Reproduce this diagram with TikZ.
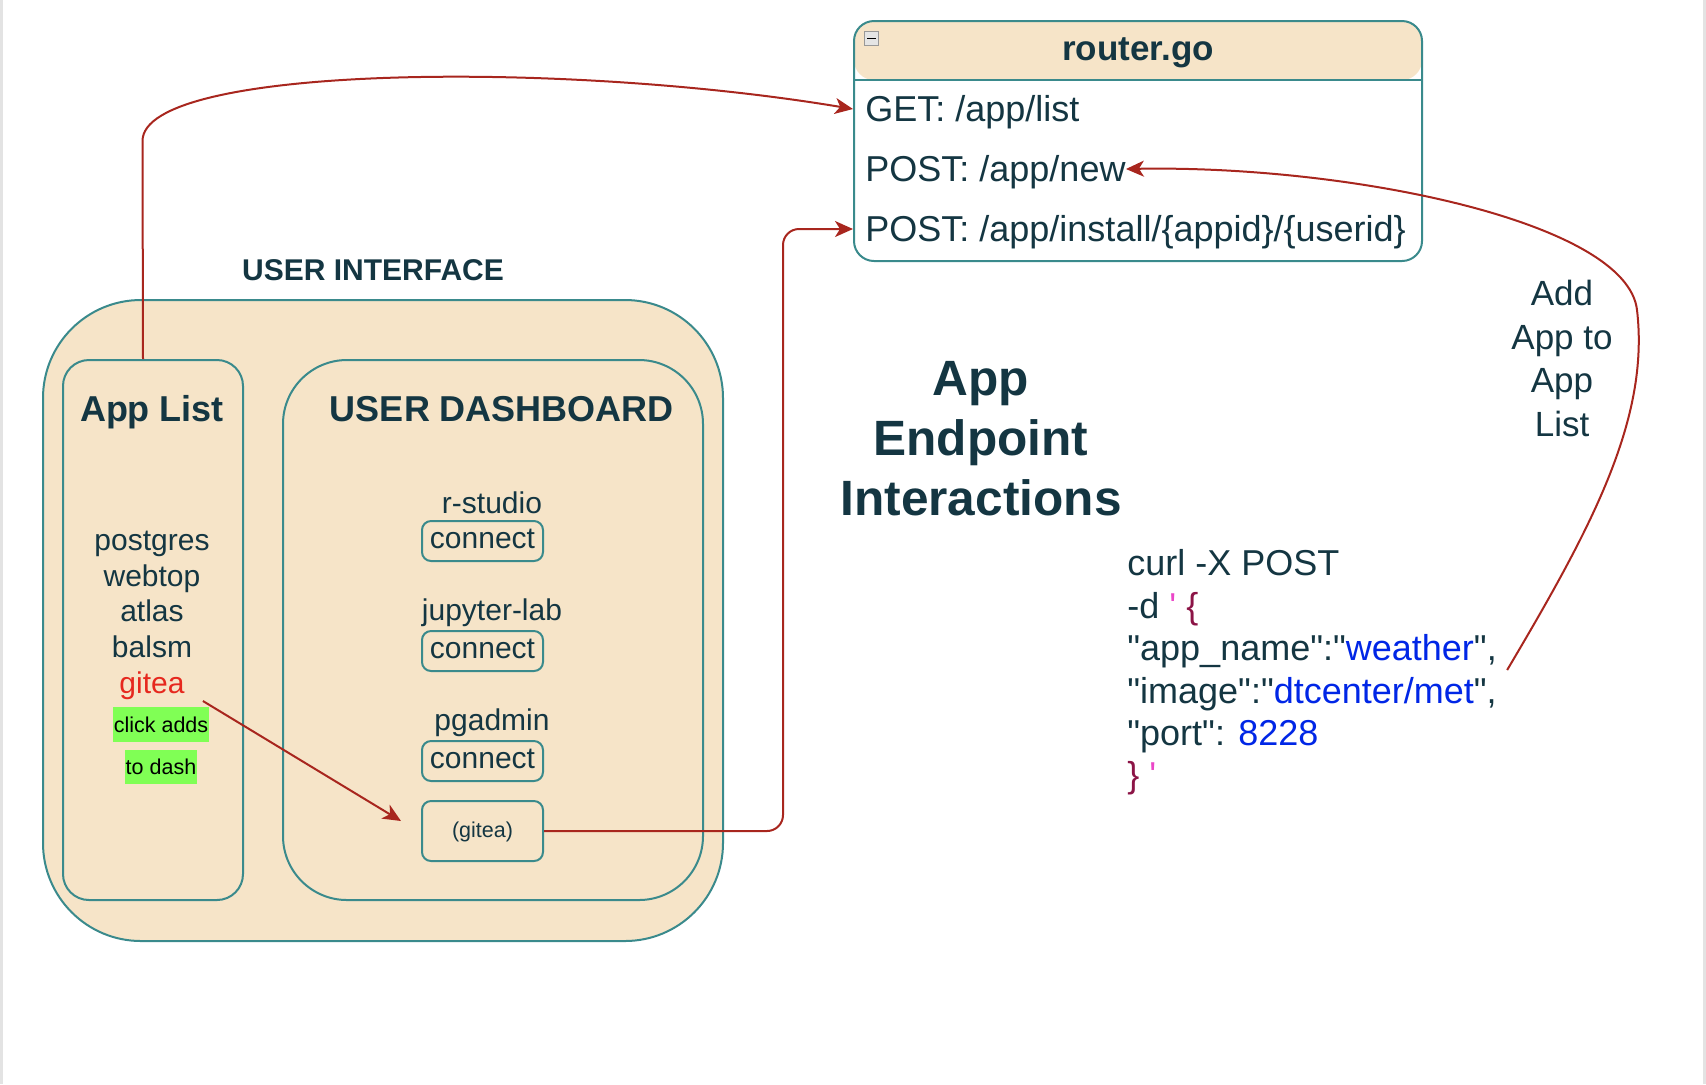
\documentclass[tikz,border=0pt]{standalone}
\usepackage{fontspec}
\setmainfont{Liberation Sans}[Ligatures=TeXOff]
\usepackage{tikz}
\usetikzlibrary{arrows.meta, positioning}
\definecolor{uifill}{RGB}{246, 228, 200}
\definecolor{uiline}{RGB}{58, 138, 140}
\definecolor{uitext}{HTML}{143642}
\definecolor{edgered}{RGB}{168, 38, 30}
\definecolor{hlgreen}{RGB}{128, 255, 85}
\definecolor{appred}{RGB}{230, 40, 30}
\definecolor{valblue}{RGB}{0, 38, 230}
\definecolor{bracecol}{RGB}{140, 20, 70}
\definecolor{quotecol}{RGB}{235, 70, 200}

\begin{document}
\begin{tikzpicture}[
  x=0.5pt, y=-0.5pt,
  panel/.style={draw=uiline, line width=1pt, fill=uifill, inner sep=0pt},
  button/.style={panel, rounded corners=4.5pt, minimum width=60.5pt, minimum height=20pt, font=\fontsize{15}{18}\selectfont, text=uitext, text height=7.8pt, text depth=0pt},
  title/.style={font=\fontsize{18}{21}\selectfont\bfseries, text=uitext, inner sep=0pt},
  item/.style={font=\fontsize{15}{18}\selectfont, text=uitext, inner sep=0pt},
  row/.style={font=\fontsize{18}{21}\selectfont, text=uitext, inner sep=0pt, text height=12.9pt, text depth=0pt},
  hint/.style={fill=hlgreen, font=\fontsize{10.75}{13}\selectfont, inner xsep=0.6pt, inner ysep=0pt, minimum height=17.3pt, text height=7.7pt, text depth=0pt},
  arrow/.style={-{Stealth[length=9pt, width=8pt, inset=2.5pt]}, draw=edgered, line width=1pt}
]
  \useasboundingbox (0,0) rectangle (1706,1084);
  \fill[gray!22] (0,0) rectangle (2.5,1084);
  \fill[gray!22] (1703,0) rectangle (1706,1084);

  \node[panel, rounded corners=49pt, minimum width=340pt, minimum height=320.5pt] (ui) at (383,620.5) {};
  \node[title, font=\fontsize{15}{18}\selectfont\bfseries, anchor=base] (uititle) at (373,280) {USER INTERFACE};
  \node[panel, rounded corners=13pt, minimum width=90pt, minimum height=270pt] (applist) at (153,630) {};
  \node[panel, rounded corners=32pt, minimum width=210pt, minimum height=270pt] (dash) at (493,630) {};
  \node[title, anchor=base] (listtitle) at (152,421) {App List};
  \node[title, anchor=base] (dashtitle) at (502,421) {USER DASHBOARD};

  \node[item, anchor=base] (postgres) at (152,550) {postgres};
  \node[item, anchor=base] (webtop) at (152,586) {webtop};
  \node[item, anchor=base] (atlas) at (152,621) {atlas};
  \node[item, anchor=base] (balsm) at (152,657) {balsm};
  \node[item, anchor=base, text=appred] (gitea) at (152,693) {gitea};
  \node[hint] (clickadds) at (161,724.5) {click adds};
  \node[hint, below=3.5pt of clickadds] (todash) {to dash};

  \node[item, anchor=base] (rstudio) at (492,513) {r-studio};
  \node[button] (conn1) at (482.5,541) {connect};
  \node[item, anchor=base] (jupyter) at (492,620.5) {jupyter-lab};
  \node[button] (conn2) at (482.5,651) {connect};
  \node[item, anchor=base] (pgadmin) at (492,730) {pgadmin};
  \node[button] (conn3) at (482.5,761) {connect};
  \node[button, minimum height=30pt, font=\fontsize{10.75}{13}\selectfont, text height=6.5pt] (gbox) at (482.5,831) {(gitea)};

  \node[panel, fill=white, rounded corners=10pt, minimum width=284pt, minimum height=120pt,
    path picture={
      \fill[uifill] (path picture bounding box.north west) rectangle ([yshift=-29.5pt]path picture bounding box.north east);
      \draw[uiline, line width=1pt] ([yshift=-29.5pt]path picture bounding box.north west) -- ([yshift=-29.5pt]path picture bounding box.north east);
    }] (router) at (1138,141) {};
  \node[title, font=\fontsize{17.5}{21}\selectfont\bfseries, anchor=base] (routertitle) at (1138,60) {router.go};
  \node[draw=gray!80, fill=gray!20, inner sep=0pt, minimum size=7pt] (fold) at (871.5,38.5) {};
  \draw[line width=0.8pt] ([xshift=-2.2pt]fold.center) -- ([xshift=2.2pt]fold.center);
  \node[row, anchor=west] (getr) at (865,109) {GET: /app/list};
  \node[row, anchor=west] (newr) at (865,169) {POST: /app/new};
  \node[row, anchor=west] (instr) at (865,229) {POST: /app/install/\{appid\}/\{userid\}};

  \node[title, font=\fontsize{24.8}{30}\selectfont\bfseries, align=center] (heading) at (981,439) {App\\Endpoint\\Interactions};
  \node[item, font=\fontsize{17.5}{21.75}\selectfont, align=center] (addnote) at (1562,358.5) {Add\\App to\\App\\List};

  \node[item, font=\fontsize{18}{21}\selectfont, anchor=base west] (c1) at (1127,575) {curl -X POST};
  \node[item, font=\fontsize{18}{21}\selectfont, anchor=base west] (c2) at (1127,618) {-d {\color{quotecol}\textquotesingle} {\color{bracecol}\{}};
  \node[item, font=\fontsize{18}{21}\selectfont, anchor=base west] (c3) at (1127,660) {"app\_name":"{\color{valblue}weather}",};
  \node[item, font=\fontsize{18}{21}\selectfont, anchor=base west] (c4) at (1127,703) {"image":"{\color{valblue}dtcenter/met}",};
  \node[item, font=\fontsize{18}{21}\selectfont, anchor=base west] (c5) at (1127,745) {"port": {\color{valblue}8228}};
  \node[item, font=\fontsize{18}{21}\selectfont, anchor=base west] (c6) at (1127,787) {{\color{bracecol}\}} {\color{quotecol}\textquotesingle}};

  \coordinate (elbow) at (783,229);
  \draw[arrow] ([xshift=-5pt]applist.north) -- (142.5,141) .. controls (142.5,65) and (560,60) .. (router.west |- getr.west);
  \draw[arrow] ([xshift=9pt,yshift=-4pt]gitea.base east) -- ([xshift=-10pt,yshift=5pt]gbox.west);
  \draw[arrow, rounded corners=8pt] (gbox.east) -| (elbow) -- (router.west |- instr.west);
  \draw[arrow] ([xshift=5pt,yshift=-5pt]c3.base east) .. controls (1590,530) and (1650,420) .. (1637,310) .. controls (1627,222) and (1350,165) .. (newr.east);
\end{tikzpicture}
\end{document}
